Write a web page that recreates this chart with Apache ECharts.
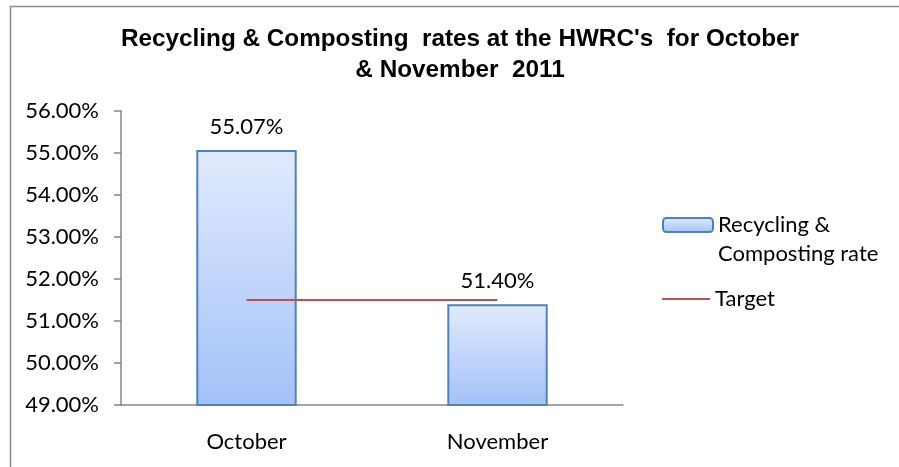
<!DOCTYPE html>
<html><head><meta charset="utf-8">
<script src="https://cdn.jsdelivr.net/npm/echarts@6/dist/echarts.min.js"></script>
<style>html,body{margin:0;padding:0;background:#fff}#c{width:899px;height:467px}</style>
</head><body><div id="c"></div>
<script>
const titleText = "Recycling & Composting  rates at the HWRC's  for October\n& November  2011";
const categories = ["October", "November"];
const rateValues = [55.07, 51.40];
const targetValues = [51.5, 51.5];
const seriesNames = ["Recycling & Composting rate", "Target"];
const yMin = 49, yMax = 56, yStep = 1;

const chart = echarts.init(document.getElementById('c'), null, {renderer: 'canvas'});
const labelFont = 'Lato';
const fs = 22;
chart.setOption({
  animation: false,
  backgroundColor: '#fff',
  graphic: [{
    type: 'rect', left: 8, top: 4, shape: {x: 0, y: 0, width: 1000, height: 1000},
    style: {fill: 'none', stroke: '#8c8c8c', lineWidth: 1.5}, silent: true, z: -1
  }],
  title: {
    text: titleText, left: 460, top: 24, padding: 0, textAlign: 'center',
    textStyle: {fontFamily: 'Liberation Sans', fontWeight: 'bold', fontSize: 24.3, lineHeight: 31, color: '#000'}
  },
  grid: {left: 121, right: 276, top: 111, bottom: 62, containLabel: false},
  legend: [{
    orient: 'vertical', left: 662, top: 181.5, itemWidth: 50, itemHeight: 14, padding: 0,
    data: [{name: seriesNames[0]}],
    formatter: function () { return ' \nRecycling &\nComposting rate'; },
    textStyle: {fontFamily: labelFont, fontSize: fs, color: '#000', lineHeight: 29}
  }, {
    orient: 'vertical', left: 662, top: 286, itemWidth: 48, itemHeight: 2, padding: 0,
    data: [{name: seriesNames[1], icon: 'path://M0,0 L48,0 L48,2 L0,2 Z'}],
    itemStyle: {color: '#C0504D'},
    textStyle: {fontFamily: labelFont, fontSize: fs, color: '#000', lineHeight: 26}
  }],
  xAxis: {
    type: 'category', data: categories,
    axisLine: {lineStyle: {color: '#868686', width: 1.5}},
    axisTick: {length: 7, lineStyle: {color: '#868686', width: 1.5}},
    axisLabel: {fontFamily: labelFont, fontSize: fs, color: '#000', margin: 26}
  },
  yAxis: {
    type: 'value', min: yMin, max: yMax, interval: yStep,
    splitLine: {show: false},
    axisLine: {show: true, lineStyle: {color: '#868686', width: 1.5}},
    axisTick: {show: true, length: 7, lineStyle: {color: '#868686', width: 1.5}},
    axisLabel: {fontFamily: labelFont, fontSize: fs, color: '#000', margin: 22,
      formatter: function (v) { return v.toFixed(2) + '%'; }}
  },
  series: [{
    name: seriesNames[0], type: 'bar', data: rateValues, barWidth: '40%',
    itemStyle: {
      color: new echarts.graphic.LinearGradient(0, 0, 0, 1, [
        {offset: 0, color: '#E1EBFD'}, {offset: 1, color: '#A3C1F8'}]),
      borderColor: '#4F81BD', borderWidth: 2
    },
    label: {show: true, position: 'top', distance: 12, fontFamily: labelFont, fontSize: fs, color: '#000',
      formatter: function (p) { return p.value.toFixed(2) + '%'; }}
  }, {
    name: seriesNames[1], type: 'line', data: targetValues, symbol: 'none',
    lineStyle: {color: '#C0504D', width: 2}, itemStyle: {color: '#C0504D'}, z: 3
  }]
});
</script></body></html>
